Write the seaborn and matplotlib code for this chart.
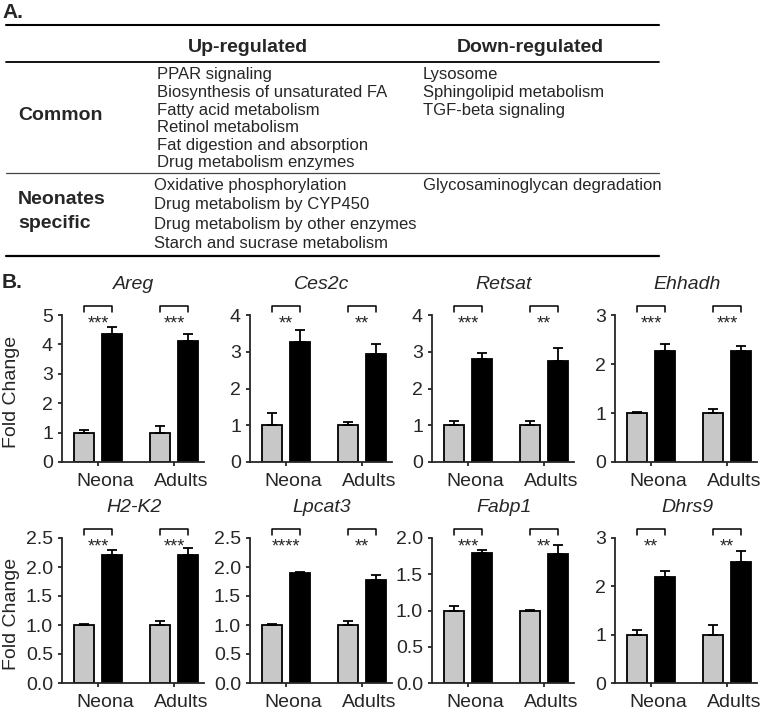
import matplotlib
matplotlib.use("Agg")
import matplotlib.pyplot as plt
import matplotlib.transforms as mtransforms
from matplotlib.lines import Line2D
import numpy as np
import pandas as pd
import seaborn as sns

# ---- panel A: pathway table ----
table_headers = ["Up-regulated", "Down-regulated"]
row_labels = [["Common"], ["Neonates", "specific"]]
common_up = ["PPAR signaling", "Biosynthesis of unsaturated FA", "Fatty acid metabolism",
             "Retinol metabolism", "Fat digestion and absorption", "Drug metabolism enzymes"]
common_down = ["Lysosome", "Sphingolipid metabolism", "TGF-beta signaling"]
neonates_up = ["Oxidative phosphorylation", "Drug metabolism by CYP450",
               "Drug metabolism by other enzymes", "Starch and sucrase metabolism"]
neonates_down = ["Glycosaminoglycan degradation"]

# ---- panel B: qPCR fold change ----
genes = ["Areg", "Ces2c", "Retsat", "Ehhadh", "H2-K2", "Lpcat3", "Fabp1", "Dhrs9"]
groups = ["Neona", "Adults"]
conditions = ["ctrl", "treated"]
ctrl_mean = [[1.0, 1.0]] * 8
ctrl_err = [[0.08, 0.23], [0.34, 0.10], [0.11, 0.11], [0.03, 0.08],
            [0.02, 0.07], [0.01, 0.07], [0.06, 0.01], [0.09, 0.20]]
treat_mean = [[4.37, 4.11], [3.27, 2.93], [2.81, 2.75], [2.27, 2.26],
              [2.21, 2.21], [1.89, 1.77], [1.79, 1.78], [2.19, 2.50]]
treat_err = [[0.23, 0.24], [0.32, 0.28], [0.16, 0.34], [0.14, 0.11],
             [0.09, 0.11], [0.02, 0.09], [0.04, 0.12], [0.13, 0.23]]
stars = [["***", "***"], ["**", "**"], ["***", "**"], ["***", "***"],
         ["***", "***"], ["****", "**"], ["***", "**"], ["**", "**"]]
ymax = [5, 4, 4, 3, 2.5, 2.5, 2.0, 3]
ystep = [1, 1, 1, 1, 0.5, 0.5, 0.5, 1]

sns.set_style("ticks")
plt.rcParams["font.family"] = ["Liberation Sans", "DejaVu Sans"]

W, H = 762, 715
fig = plt.figure(figsize=(W / 100, H / 100), dpi=100)


def fx(x):
    return x / W


def fy(y):
    return 1 - y / H


# table
fig.text(fx(2), fy(12), "A.", fontsize=15, fontweight="bold", va="center")
for y, lw, col in [(25, 1.5, "black"), (61.7, 1.3, "black"), (173.3, 0.9, "#444444"), (256, 1.6, "black")]:
    fig.add_artist(Line2D([fx(6), fx(659)], [fy(y), fy(y)], lw=lw, color=col))
for name, xc in zip(table_headers, [248, 530]):
    fig.text(fx(xc), fy(47), name, fontsize=14, fontweight="bold", ha="center", va="center")
fig.text(fx(18), fy(116), row_labels[0][0], fontsize=14, fontweight="bold", va="center")
for i, lab in enumerate(row_labels[1]):
    fig.text(fx(18), fy(199.3 + 24 * i), lab, fontsize=14, fontweight="bold", va="center")
for i, s in enumerate(common_up):
    fig.text(fx(157), fy(75 + 17.6 * i), s, fontsize=12, va="center")
for i, s in enumerate(common_down):
    fig.text(fx(422.7), fy(75 + 17.6 * i), s, fontsize=12, va="center")
for i, s in enumerate(neonates_up):
    fig.text(fx(154), fy(185.3 + 19.5 * i), s, fontsize=12, va="center")
for i, s in enumerate(neonates_down):
    fig.text(fx(422.7), fy(185.3 + 19.5 * i), s, fontsize=12, va="center")

fig.text(fx(2), fy(282), "B.", fontsize=15, fontweight="bold", va="center")

# bar panels
lefts = [62, 250, 432, 615]
rows = [(315, 462), (538, 683)]
ax_w = 142
palette = {"ctrl": "#c8c8c8", "treated": "black"}
label_shift = mtransforms.ScaledTranslation(7 / 100, 0, fig.dpi_scale_trans)

for g, gene in enumerate(genes):
    r, c = divmod(g, 4)
    top, bottom = rows[r]
    h = bottom - top
    ax = fig.add_axes([fx(lefts[c]), fy(bottom), ax_w / W, h / H])
    df = pd.DataFrame({
        "group": groups * 2,
        "cond": ["ctrl"] * 2 + ["treated"] * 2,
        "value": list(ctrl_mean[g]) + list(treat_mean[g]),
    })
    sns.barplot(data=df, x="group", y="value", hue="cond", order=groups,
                hue_order=conditions, palette=palette, width=0.75, gap=0.31,
                edgecolor="black", linewidth=1.3, errorbar=None, legend=False, ax=ax)
    errs = [ctrl_err[g], treat_err[g]]
    centers = {}
    for k, (cont, ev) in enumerate(zip(ax.containers, errs)):
        for j, (bar, e) in enumerate(zip(cont, ev)):
            xc = bar.get_x() + bar.get_width() / 2
            centers[(j, k)] = xc
            ax.errorbar(xc, bar.get_height(), yerr=[[0], [e]], fmt="none",
                        ecolor="black", elinewidth=1.3, capsize=3.5, capthick=1.3, zorder=1)
    ax.set_xlim(-36 / 76, (ax_w - 36) / 76)
    ax.set_ylim(0, ymax[g])
    ticks = np.arange(0, ymax[g] + 1e-9, ystep[g])
    ax.set_yticks(ticks)
    if ystep[g] < 1:
        ax.set_yticklabels([f"{t:.1f}" for t in ticks])
    else:
        ax.set_yticklabels([f"{int(t)}" for t in ticks])
    ax.set_xlabel("")
    ax.set_ylabel("")
    sns.despine(ax=ax)
    for sp in ["left", "bottom"]:
        ax.spines[sp].set_linewidth(1.3)
    ax.tick_params(labelsize=14, length=3, width=1.3, pad=3.5)
    ax.tick_params(axis="x", pad=5)
    for lbl in ax.get_xticklabels():
        lbl.set_transform(lbl.get_transform() + label_shift)
    ax.patch.set_alpha(0)

    # significance brackets
    trans = mtransforms.blended_transform_factory(ax.transData, ax.transAxes)
    b_top = 1 + 9 / h
    b_end = 1 + 3 / h
    for j in range(2):
        x0, x1 = centers[(j, 0)], centers[(j, 1)]
        ax.plot([x0, x0, x1, x1], [b_end, b_top, b_top, b_end], color="black",
                lw=1.1, transform=trans, clip_on=False)
        ax.text((x0 + x1) / 2, 1 - 13 / h, stars[g][j], ha="center", va="baseline",
                fontsize=13, transform=trans)

    fig.text(fx(lefts[c] + 72), fy(top - 30), gene, fontsize=14, style="italic",
             ha="center", va="center")
    if c == 0:
        fig.text(fx(12), fy((top + bottom) / 2 + 3), "Fold Change", fontsize=14,
                 rotation=90, ha="center", va="center")

fig.savefig("out.png", dpi=100)
